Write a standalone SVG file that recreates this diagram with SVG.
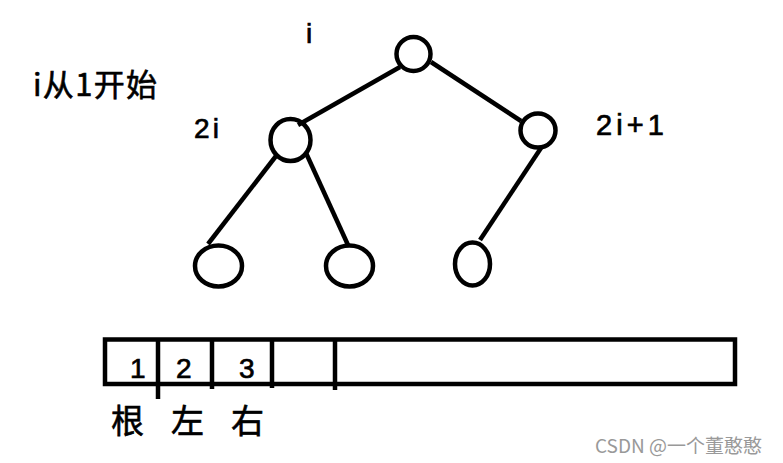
<svg xmlns="http://www.w3.org/2000/svg" width="783" height="463" viewBox="0 0 783 463">
<style>
.n{fill:none;stroke:#000;stroke-width:4.5}
.e{stroke:#000;stroke-width:4.5;stroke-linecap:butt}
.t{font-family:"Liberation Sans","Noto Sans CJK SC",sans-serif;fill:#000;stroke:#000;stroke-width:0.7}
.c{font-family:"Noto Sans CJK SC","Liberation Sans",sans-serif;fill:#000;stroke:#000;stroke-width:0.6}
</style>
<rect width="783" height="463" fill="#fff"/>
<g id="connectors">
<line class="e" x1="400" y1="67" x2="298" y2="125"/>
<line class="e" x1="431" y1="62" x2="521" y2="121"/>
<line class="e" x1="276" y1="156" x2="208" y2="244"/>
<line class="e" x1="306" y1="153" x2="348" y2="245"/>
<line class="e" x1="541" y1="148" x2="480" y2="240"/>
</g>
<g id="node-root"><ellipse class="n" cx="413.5" cy="54" rx="17" ry="17"/></g>
<g id="node-left"><ellipse class="n" cx="290.5" cy="140" rx="20" ry="21"/></g>
<g id="node-right"><ellipse class="n" cx="538" cy="130.5" rx="17.5" ry="17"/></g>
<g id="node-ll"><ellipse class="n" cx="218.5" cy="266" rx="23.5" ry="20.5"/></g>
<g id="node-lr"><ellipse class="n" cx="349.5" cy="266" rx="23.5" ry="20.5"/></g>
<g id="node-rl"><ellipse class="n" cx="472.5" cy="264" rx="17.5" ry="21.5"/></g>
<g id="labels">
<text class="t" x="306" y="43" font-size="28">i</text>
<text class="t" x="194" y="138" font-size="28" textLength="25" lengthAdjust="spacing">2i</text>
<text class="t" x="596" y="135" font-size="29" textLength="68" lengthAdjust="spacing">2i+1</text>
<text class="c" x="33" y="96" font-size="31" textLength="124" lengthAdjust="spacing">i从1开始</text>
</g>
<g id="array">
<rect class="n" x="105" y="339.5" width="630" height="44.5"/>
<line class="e" x1="158" y1="339" x2="158" y2="399"/>
<line class="e" x1="212" y1="339" x2="212" y2="389"/>
<line class="e" x1="272" y1="339" x2="272" y2="388"/>
<line class="e" x1="335" y1="339" x2="335" y2="390"/>
<text class="t" x="130" y="378" font-size="28">1</text>
<text class="t" x="176" y="378" font-size="28">2</text>
<text class="t" x="239" y="378" font-size="28">3</text>
<text class="c" x="111" y="433" font-size="33">根</text>
<text class="c" x="171" y="433" font-size="33">左</text>
<text class="c" x="231" y="433" font-size="33">右</text>
</g>
<text x="595" y="453" font-family="'Noto Sans CJK SC','Liberation Sans',sans-serif" font-size="19" fill="#999">CSDN @一个董憨憨</text>
</svg>
